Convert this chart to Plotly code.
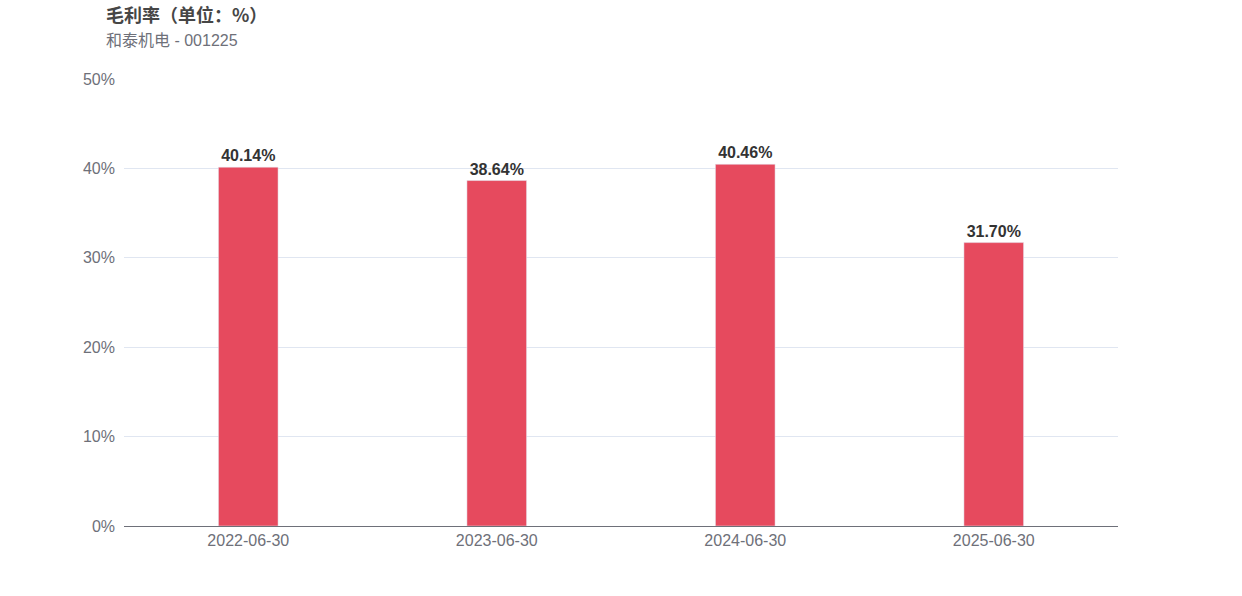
import plotly.graph_objects as go

categories = ["2022-06-30", "2023-06-30", "2024-06-30", "2025-06-30"]
values = [40.14, 38.64, 40.46, 31.70]
labels = ["40.14%", "38.64%", "40.46%", "31.70%"]
tick_vals = [0, 10, 20, 30, 40, 50]
tick_text = ["0%", "10%", "20%", "30%", "40%", "50%"]

W, H = 1242, 596
L, R, T, B = 124, W - 1118, 79, H - 526
pw = W - L - R
ph = H - T - B

def px_to_paper(px, py):
    return (px - L) / pw, (H - B - py) / ph

fig = go.Figure(go.Bar(
    x=categories, y=values, text=labels, textposition="outside",
    textfont=dict(size=16, color="#333333", family="Liberation Sans, Arial, sans-serif", weight="bold"),
    marker=dict(color="#E64A5E"), width=0.24, cliponaxis=False,
))
tx, ty = px_to_paper(104, 14)
sx, sy = px_to_paper(104, 40)
fig.update_layout(
    width=W, height=H,
    margin=dict(l=L, r=R, t=T, b=B),
    paper_bgcolor="white", plot_bgcolor="white",
    font=dict(family="Liberation Sans, Arial, sans-serif", color="#6E7079", size=16),
    showlegend=False,
    xaxis=dict(type="category", showgrid=False, showline=True, linecolor="#6E7079", linewidth=1,
               ticks="", tickfont=dict(size=16, color="#6E7079")),
    yaxis=dict(range=[0, 50], tickvals=tick_vals, ticktext=tick_text,
               showgrid=True, gridcolor="#E0E6F1", zeroline=False,
               tickfont=dict(size=16, color="#6E7079"), ticklabelstandoff=8),
    annotations=[
        dict(text="<b>毛利率（单位：%）</b>", x=tx, y=ty, xref="paper", yref="paper",
             showarrow=False, xanchor="left", yanchor="middle",
             font=dict(size=18, color="#464646", family="Noto Sans CJK SC, sans-serif")),
        dict(text="和泰机电 - 001225", x=sx, y=sy, xref="paper", yref="paper",
             showarrow=False, xanchor="left", yanchor="middle",
             font=dict(size=16, color="#6E7079", family="Liberation Sans, Noto Sans CJK SC, sans-serif")),
    ],
)
fig.write_html("out.html", config={"displayModeBar": False},
               post_script="document.body.style.margin='0';")
